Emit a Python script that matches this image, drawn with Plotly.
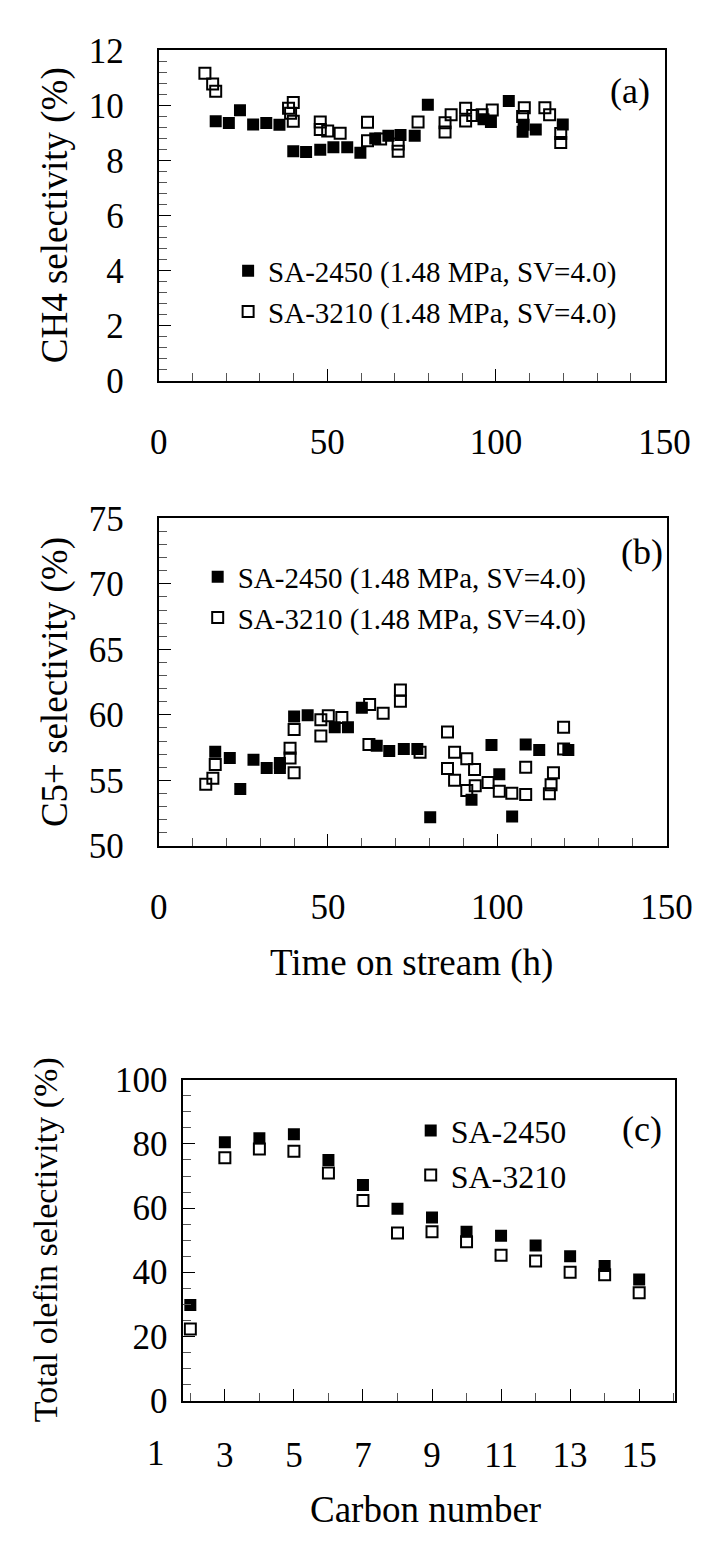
import plotly.graph_objects as go

W, H = 714, 1548
FONT = "Liberation Serif, Times New Roman, serif"

# ---------------- data ----------------
# (a) CH4 selectivity vs time on stream
a_2450_t = [16.9, 20.8, 24.1, 28.0, 31.9, 35.8, 39.9, 43.7, 47.9, 51.8, 55.9, 59.8, 64.2, 68.1, 71.7,
            75.9, 79.8, 96.3, 98.5, 103.8, 107.9, 108.2, 111.8, 119.8]
a_2450_v = [9.43, 9.36, 9.83, 9.31, 9.36, 9.30, 8.34, 8.31, 8.39, 8.48, 8.48, 8.28, 8.80, 8.90, 8.93,
            8.90, 10.03, 9.50, 9.40, 10.16, 9.05, 9.30, 9.13, 9.31]
a_3210_t = [13.7, 16.0, 16.9, 38.5, 39.9, 39.1, 39.9, 47.9, 47.9, 50.1, 53.8, 61.9, 61.9, 65.8, 71.0,
            71.0, 76.9, 84.9, 84.9, 86.7, 91.0, 91.0, 93.1, 95.9, 98.9, 107.9, 108.4, 114.5, 115.9,
            119.2, 119.2]
a_3210_v = [11.17, 10.78, 10.52, 9.90, 10.11, 9.72, 9.43, 9.40, 9.13, 9.07, 8.99, 9.39, 8.72, 8.78, 8.60,
            8.34, 9.40, 9.04, 9.37, 9.66, 9.90, 9.44, 9.64, 9.66, 9.84, 9.60, 9.92, 9.92, 9.66,
            8.98, 8.66]

# (b) C5+ selectivity vs time on stream
b_2450_t = [16.7, 21.0, 24.1, 28.0, 31.9, 35.8, 35.8, 40.0, 44.0, 52.0, 55.9, 60.0, 64.4, 68.1, 72.4,
            76.4, 80.2, 92.4, 98.3, 100.6, 104.4, 108.4, 112.4, 121.0]
b_2450_v = [57.19, 56.70, 54.34, 56.57, 55.95, 56.32, 55.95, 59.87, 59.97, 59.05, 59.05, 60.54, 57.64,
            57.24, 57.39, 57.39, 52.18, 53.52, 57.69, 55.46, 52.23, 57.74, 57.32, 57.32]
b_3210_t = [13.9, 16.0, 16.7, 38.8, 38.8, 40.0, 40.0, 47.9, 47.9, 50.1, 54.1, 62.3, 62.1, 66.3, 71.4,
            71.4, 77.2, 85.3, 85.3, 87.4, 87.4, 91.0, 93.3, 91.0, 93.5, 97.3, 100.6, 104.3, 108.4,
            108.4, 115.4, 115.9, 116.6, 119.6, 119.6]
b_3210_v = [54.71, 55.16, 56.20, 57.44, 56.70, 58.88, 55.58, 59.62, 58.38, 59.92, 59.80, 60.79, 57.74,
            60.12, 61.90, 61.03, 57.14, 58.68, 55.90, 57.14, 55.01, 56.65, 55.83, 54.22, 54.59, 54.84,
            54.17, 54.02, 53.92, 56.00, 53.97, 54.67, 55.58, 59.05, 57.39]

# (c) total olefin selectivity vs carbon number
c_carbon = [2, 3, 4, 5, 6, 7, 8, 9, 10, 11, 12, 13, 14, 15]
c_2450 = [29.8, 80.5, 81.8, 83.0, 75.0, 67.2, 59.8, 57.1, 52.6, 51.4, 48.3, 45.0, 41.9, 37.7]
c_3210 = [22.3, 75.7, 78.4, 77.7, 70.9, 62.4, 52.2, 52.6, 49.5, 45.3, 43.5, 40.0, 39.2, 33.6]

name_2450_long = "SA-2450 (1.48 MPa, SV=4.0)"
name_3210_long = "SA-3210 (1.48 MPa, SV=4.0)"
name_2450 = "SA-2450"
name_3210 = "SA-3210"

x_ticks_time = [0, 50, 100, 150]
y_ticks_a = [0, 2, 4, 6, 8, 10, 12]
y_ticks_b = [50, 55, 60, 65, 70, 75]
x_ticks_c = [1, 3, 5, 7, 9, 11, 13, 15]
y_ticks_c = [0, 20, 40, 60, 80, 100]

# axis ranges
x_range_time = [0, 150]
y_range_a = [0, 12]
y_range_b = [50, 75]
x_range_c = [1.8, 16.04]
y_range_c = [0, 100]


def fx(p):
    return p / W


def fy(p):
    return 1 - p / H


dom_x3 = [fx(175), fx(692)]
c_bottom_px = 1409
c_tick_standoff = 22

filled = dict(symbol="square", size=12, color="black", line=dict(width=0))
opened = dict(symbol="square-open", size=11, color="black", line=dict(width=2, color="black"))

fig = go.Figure()
fig.add_trace(go.Scatter(x=a_2450_t, y=a_2450_v, mode="markers", marker=filled, name=name_2450_long,
                         xaxis="x", yaxis="y", legend="legend"))
fig.add_trace(go.Scatter(x=a_3210_t, y=a_3210_v, mode="markers", marker=opened, name=name_3210_long,
                         xaxis="x", yaxis="y", legend="legend"))
fig.add_trace(go.Scatter(x=b_2450_t, y=b_2450_v, mode="markers", marker=filled, name=name_2450_long,
                         xaxis="x2", yaxis="y2", legend="legend2", legendgroup="b1"))
fig.add_trace(go.Scatter(x=b_3210_t, y=b_3210_v, mode="markers", marker=opened, name=name_3210_long,
                         xaxis="x2", yaxis="y2", legend="legend2", legendgroup="b2"))
fig.add_trace(go.Scatter(x=c_carbon, y=c_2450, mode="markers", marker=filled, name=name_2450,
                         xaxis="x3", yaxis="y3", legend="legend3"))
fig.add_trace(go.Scatter(x=c_carbon, y=c_3210, mode="markers", marker=opened, name=name_3210,
                         xaxis="x3", yaxis="y3", legend="legend3"))

tickfont = dict(family=FONT, size=35, color="black")


def axis(rng, dom, tickvals, minor_dtick, anchor, standoff):
    return dict(range=rng, domain=dom, anchor=anchor, tickvals=tickvals,
                ticks="inside", ticklen=12, tickwidth=1.3, tickcolor="black",
                minor=dict(ticks="inside", ticklen=8, dtick=minor_dtick, tickwidth=1, tickcolor="#555"),
                showline=True, linecolor="black", linewidth=2, mirror=True,
                showgrid=False, zeroline=False, tickfont=tickfont, ticklabelstandoff=standoff,
                fixedrange=True)


def leg(xl, yt, size, gap=0):
    return dict(x=fx(xl), y=fy(yt), xanchor="left", yanchor="top", xref="paper", yref="paper",
                font=dict(family=FONT, size=size, color="black"), bgcolor="rgba(0,0,0,0)",
                borderwidth=0, itemwidth=30, tracegroupgap=gap, traceorder="normal")


def ann(text, xc, yc, size=35, angle=0):
    return dict(text=text, x=fx(xc), y=fy(yc), xref="paper", yref="paper", showarrow=False,
                xanchor="center", yanchor="middle", textangle=angle,
                font=dict(family=FONT, size=size, color="black"))


# first x tick label of panel (c) lies left of the plotted range; place it via the axis mapping
first_c_tick = x_ticks_c[0]
first_c_tick_paper = dom_x3[0] + (first_c_tick - x_range_c[0]) / (x_range_c[1] - x_range_c[0]) * (dom_x3[1] - dom_x3[0])
tick1_ann = dict(text=str(first_c_tick), x=first_c_tick_paper, y=fy(c_bottom_px + c_tick_standoff + 32),
                 xref="paper", yref="paper", showarrow=False, xanchor="center", yanchor="middle",
                 font=tickfont)

fig.update_layout(
    width=W, height=H, margin=dict(l=0, r=0, t=0, b=0),
    paper_bgcolor="white", plot_bgcolor="white",
    xaxis=axis(x_range_time, [fx(149), fx(681)], x_ticks_time, 10, "y", 29),
    yaxis=axis(y_range_a, [fy(363), fy(24)], y_ticks_a, 0.4, "x", 26),
    xaxis2=axis(x_range_time, [fx(149), fx(683)], x_ticks_time, 10, "y2", 29),
    yaxis2=axis(y_range_b, [fy(840), fy(504)], y_ticks_b, 1, "x2", 26),
    xaxis3=axis(x_range_c, dom_x3, x_ticks_c, 1, "y3", c_tick_standoff),
    yaxis3=axis(y_range_c, [fy(c_bottom_px), fy(1080)], y_ticks_c, 5, "x3", 7),
    legend=leg(222, 224, 29),
    legend2=leg(190, 538, 29, 4),
    legend3=leg(414, 1104, 32),
    showlegend=True,
    annotations=[
        ann("(a)", 645, 66, 36),
        ann("(b)", 657, 539, 36),
        ann("(c)", 657, 1130, 36),
        ann("CH4 selectivity (%)", 40, 193, 37, -90),
        ann("C5+ selectivity (%)", 40, 672, 37, -90),
        ann("Total olefin selectivity (%)", 30, 1244, 34, -90),
        ann("Time on stream (h)", 415, 960, 37),
        ann("Carbon number", 430, 1521, 37),
        tick1_ann,
    ],
)

fig.write_html("out.html")
